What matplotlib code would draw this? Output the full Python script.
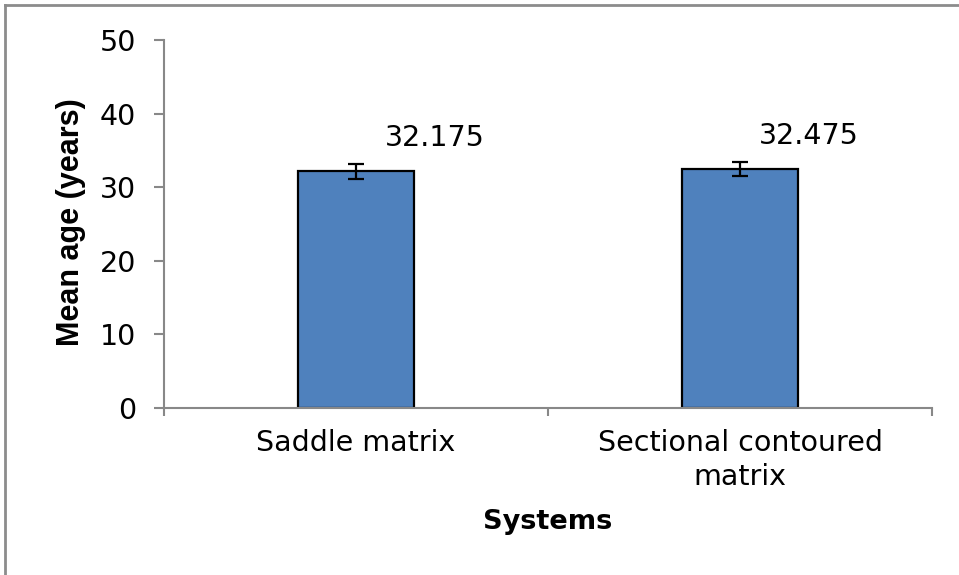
import matplotlib
matplotlib.use("Agg")
import matplotlib.pyplot as plt
from matplotlib.lines import Line2D

categories = ["Saddle matrix", "Sectional contoured\nmatrix"]
values = [32.175, 32.475]
errors = [1.0, 1.0]
value_labels = ["32.175", "32.475"]
yticks = [0, 10, 20, 30, 40, 50]

# styling: label offsets in pixels
label_dx = [79, 69]
label_dy = 33

plt.rcParams['font.family'] = ['DejaVu Sans']

fig = plt.figure(figsize=(9.59, 5.75), dpi=100)
ax = fig.add_axes([164/959, 1-408/575, (932-164)/959, (408-40)/575])

x = list(range(len(categories)))
ax.bar(x, values, width=0.30, color="#4F81BD", edgecolor="black", linewidth=1.6, zorder=2)
ax.errorbar(x, values, yerr=errors, fmt="none", ecolor="black", elinewidth=1.6,
            capsize=6, capthick=1.6, zorder=3)

for xi, v, lab, dx in zip(x, values, value_labels, label_dx):
    ax.annotate(lab, (xi, v), xytext=(dx, label_dy), textcoords="offset pixels",
                ha="center", va="center", fontsize=20.5)

ax.set_xlim(-0.5, len(categories) - 0.5)
ax.set_ylim(0, 50)
ax.set_yticks(yticks)
ax.set_yticklabels([str(t) for t in yticks], fontsize=20.5)
ax.set_xticks([-0.5, 0.5, 1.5])
ax.set_xticklabels([])
ax.set_xticks(x, minor=True)
ax.set_xticklabels(categories, minor=True, fontsize=20.5, linespacing=1.3)
ax.tick_params(axis="x", which="minor", length=0, pad=15)
ax.tick_params(axis="x", which="major", length=6, width=1.5, color="#888888", direction="out")
ax.tick_params(axis="y", length=7, width=1.5, color="#888888", direction="out", pad=13)

for s in ["top", "right"]:
    ax.spines[s].set_visible(False)
for s in ["left", "bottom"]:
    ax.spines[s].set_color("#888888")
    ax.spines[s].set_linewidth(1.5)

fig.text(71/959, 1-222/575, "Mean age (years)", rotation=90, ha="center", va="center",
         fontsize=22, fontweight="bold", family=["Liberation Sans", "DejaVu Sans"])
fig.text(548/959, 1-522/575, "Systems", ha="center", va="center", fontsize=19.5, fontweight="bold")

# outer frame
fig.add_artist(Line2D([5/959, 1.0], [1-5/575, 1-5/575], transform=fig.transFigure, color="#8c8c8c", lw=2))
fig.add_artist(Line2D([5/959, 5/959], [0.0, 1-5/575], transform=fig.transFigure, color="#8c8c8c", lw=2))

fig.savefig("out.png", dpi=100)
